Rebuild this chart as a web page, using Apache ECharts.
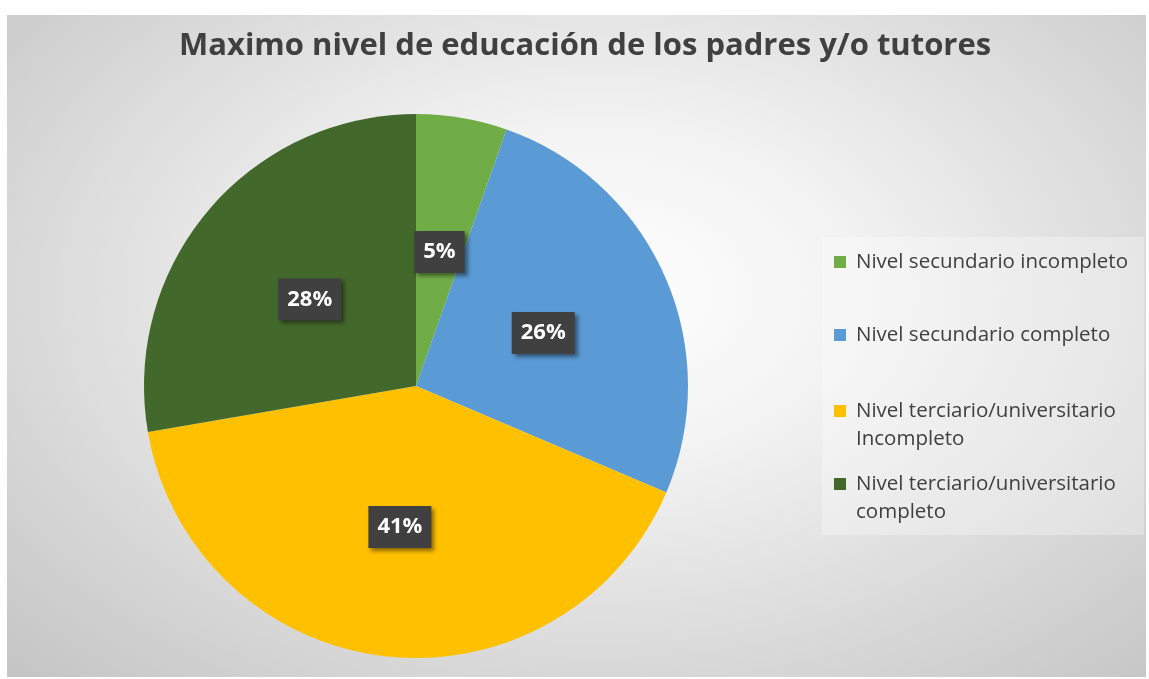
<!DOCTYPE html>
<html>
<head>
<meta charset="utf-8">
<script src="https://cdn.jsdelivr.net/npm/echarts@6/dist/echarts.min.js"></script>
<style>
  html, body { margin: 0; padding: 0; background: #fff; }
  .chart-wrapper {
    position: absolute;
    left: 7px;
    top: 15px;
    width: 1139px;
    height: 662px;
    background: radial-gradient(ellipse farthest-corner at 52% 42%, #ffffff 0%, #f3f3f3 30%, #c4c4c4 100%);
  }
  #chart { width: 100%; height: 100%; }
</style>
</head>
<body>
<div class="chart-wrapper"><div id="chart"></div></div>
<script>
const titleText = 'Maximo nivel de educación de los padres y/o tutores'
const categories = [
  'Nivel secundario incompleto',
  'Nivel secundario completo',
  'Nivel terciario/universitario\nIncompleto',
  'Nivel terciario/universitario\ncompleto',
]
const values = [5.4, 26.0, 40.9, 27.7]
const colors = ['#70AD47', '#5B9BD5', '#FFC000', '#43682B']

// one legend per entry so multi-line items keep Excel spacing
const legendTops = [233, 306, 382, 455]

// tall icon with the square at the top, so the marker sits on the first line
const topSquareIcon = 'path://M0,0L12,0L12,12L0,12Z M0,40L0.01,40'

const chart = echarts.init(document.getElementById('chart'))

const legends = categories.map((name, i) => {
  const multiLine = name.includes('\n')
  return {
    orient: 'vertical',
    left: 827,
    top: legendTops[i],
    padding: 0,
    icon: multiLine ? topSquareIcon : 'rect',
    itemWidth: 12,
    itemHeight: multiLine ? 40 : 12,
    selectedMode: false,
    data: [{ name, textStyle: { padding: [0, 0, 0, 5] } }],
    textStyle: {
      fontFamily: 'Open Sans',
      fontSize: 20.5,
      lineHeight: 28,
      color: '#404040',
    },
  }
})

chart.setOption({
  animation: false,
  color: colors,
  title: {
    text: titleText,
    left: 172,
    top: 16,
    padding: 0,
    textStyle: {
      fontFamily: 'Open Sans',
      fontWeight: 'bold',
      fontSize: 31,
      color: '#404040',
    },
  },
  graphic: [
    {
      type: 'rect',
      shape: { x: 815, y: 222, width: 322, height: 298 },
      style: { fill: 'rgba(255,255,255,0.3)' },
      silent: true,
      z: -1,
    },
  ],
  legend: legends,
  series: [
    {
      type: 'pie',
      center: [409, 371],
      radius: 272,
      startAngle: 90,
      clockwise: true,
      avoidLabelOverlap: false,
      percentPrecision: 0,
      emphasis: { disabled: true },
      label: {
        show: true,
        position: 'inside',
        formatter: '{d}%',
        fontFamily: 'Open Sans',
        fontWeight: 'bold',
        fontSize: 22,
        lineHeight: 26,
        color: '#ffffff',
        backgroundColor: '#404040',
        padding: [8, 9, 8, 9],
        shadowBlur: 4,
        shadowOffsetX: 3,
        shadowOffsetY: 3,
        shadowColor: 'rgba(0,0,0,0.45)',
        offset: [0, 3],
      },
      labelLine: { show: false },
      data: categories.map((name, i) => ({ name, value: values[i] })),
    },
  ],
})
</script>
</body>
</html>
